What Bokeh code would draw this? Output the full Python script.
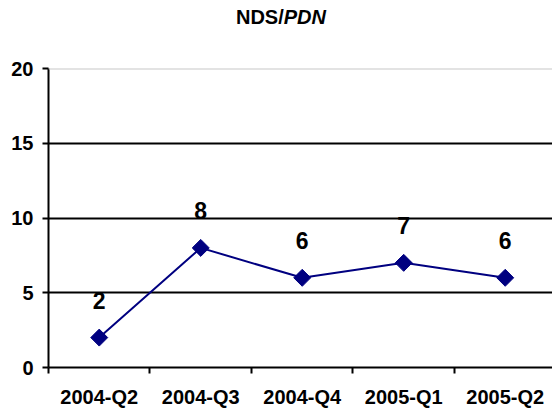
import math
from bokeh.plotting import figure
from bokeh.layouts import column
from bokeh.models import (Range1d, FixedTicker, Span, Div, ColumnDataSource)
from bokeh.core.properties import value
from bokeh.embed import file_html
from bokeh.resources import INLINE

title_main = "NDS/"
title_italic = "PDN"
categories = ["2004-Q2", "2004-Q3", "2004-Q4", "2005-Q1", "2005-Q2"]
values = [2, 8, 6, 7, 6]
y_ticks = [0, 5, 10, 15, 20]

xs = [i + 0.5 for i in range(len(categories))]
src = ColumnDataSource(dict(x=xs, y=values, lab=[str(v) for v in values]))

FONT = "Liberation Sans"

title = Div(text=('<div style="width:552px;text-align:center;font-family:\'Liberation Sans\';'
                  'font-weight:bold;font-size:20px;line-height:35px;color:black;'
                  'padding-left:10px;box-sizing:border-box">'
                  f'{title_main}<i>{title_italic}</i></div>'),
            width=552, height=35, margin=(0, 0, 0, 0))

p = figure(width=552, height=375, output_backend="svg", toolbar_location=None,
           x_range=Range1d(0, 4.966), y_range=Range1d(0, 20),
           min_border_left=48, min_border_right=0, min_border_top=33,
           min_border_bottom=42, margin=(0, 0, 0, 0))
p.outline_line_color = None
p.background_fill_color = "white"
p.border_fill_color = "white"

# axes
p.xaxis.ticker = FixedTicker(ticks=xs, minor_ticks=list(range(len(categories) + 1)))
p.xaxis.major_label_overrides = {x: c for x, c in zip(xs, categories)}
p.xaxis.major_tick_line_color = None
p.xaxis.minor_tick_line_color = "black"
p.xaxis.minor_tick_line_width = 2
p.xaxis.minor_tick_out = 6
p.xaxis.minor_tick_in = 0
p.xaxis.axis_line_width = 2
p.xaxis.axis_line_color = "black"
p.xaxis.major_label_text_font = FONT
p.xaxis.major_label_text_font_style = "bold"
p.xaxis.major_label_text_font_size = "20px"
p.xaxis.major_label_text_color = "black"
p.xaxis.major_label_standoff = 12

p.yaxis.ticker = FixedTicker(ticks=y_ticks)
p.yaxis.minor_tick_line_color = None
p.yaxis.major_tick_line_width = 2
p.yaxis.major_tick_out = 6
p.yaxis.major_tick_in = 0
p.yaxis.axis_line_width = 2
p.yaxis.axis_line_color = "black"
p.yaxis.major_label_text_font = FONT
p.yaxis.major_label_text_font_style = "bold"
p.yaxis.major_label_text_font_size = "20px"
p.yaxis.major_label_text_color = "black"
p.yaxis.major_label_standoff = 9

p.xgrid.grid_line_color = None
p.ygrid.ticker = FixedTicker(ticks=[5, 10, 15])
p.ygrid.grid_line_color = "black"
p.ygrid.grid_line_width = 2

p.add_layout(Span(location=20, dimension="width", line_color="#c8c8c8", line_width=2))

p.line("x", "y", source=src, line_color="#000080", line_width=2)
p.scatter("x", "y", source=src, marker="square", size=12, angle=math.pi / 4,
          fill_color="#000080", line_color="#000080")
p.text("x", "y", text="lab", source=src, x_offset=0, y_offset=-37,
       text_align="center", text_baseline="middle", text_font=value(FONT),
       text_font_style="bold", text_font_size="23px", text_color="black")

layout = column(title, p, spacing=0, margin=(0, 0, 0, 0))

open("out.html", "w").write(file_html(layout, INLINE))
